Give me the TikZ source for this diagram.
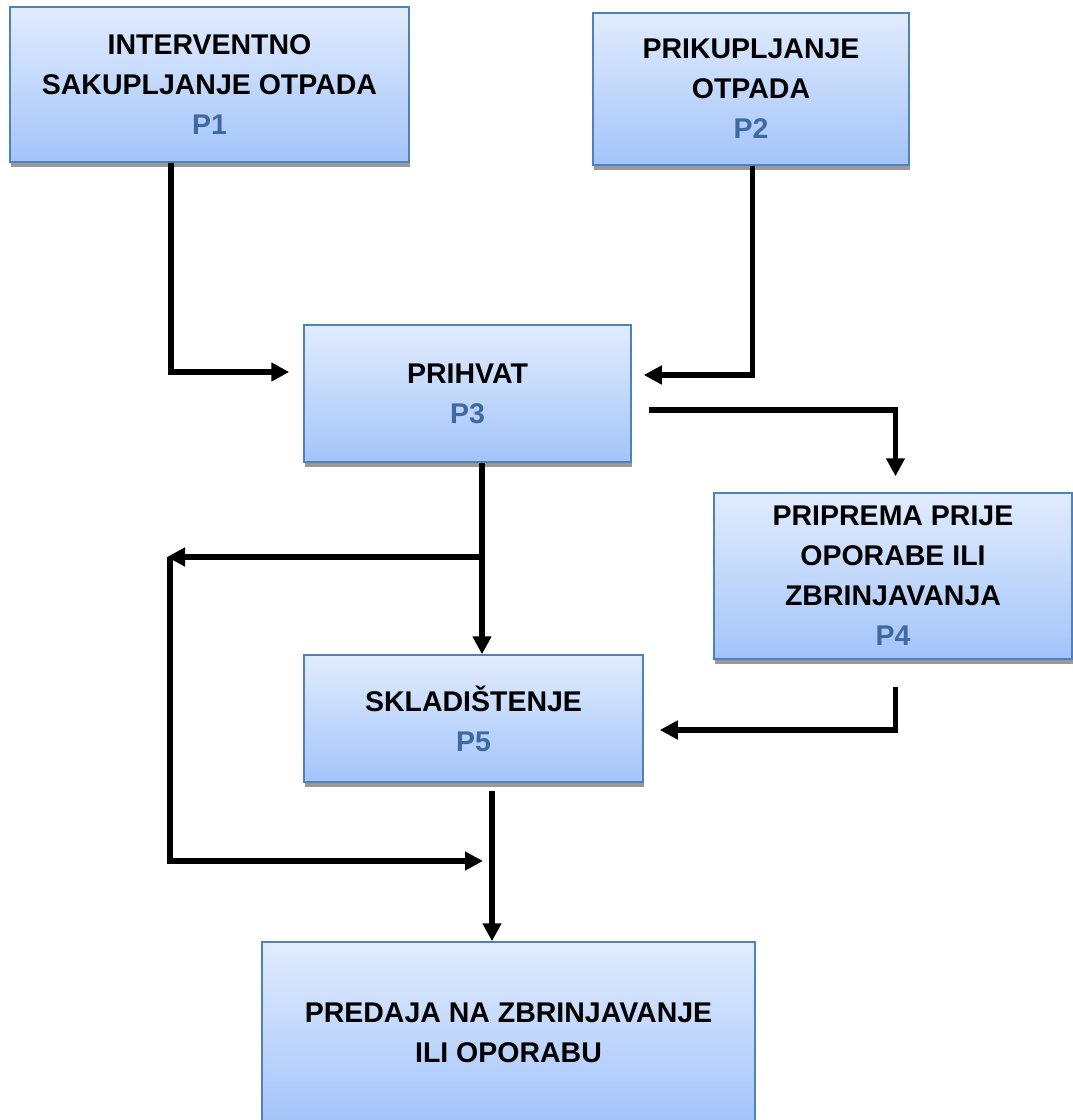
\documentclass[tikz,border=0pt]{standalone}
\usepackage{fontspec}
\setmainfont{Liberation Sans}
\usepackage{tikz}
\usetikzlibrary{positioning, calc, shadows, arrows.meta}

\definecolor{boxtop}{RGB}{225,236,253}
\definecolor{boxbot}{RGB}{163,196,250}
\definecolor{boxline}{RGB}{79,129,189}
\definecolor{pblue}{RGB}{62,106,163}

\begin{document}
\begin{tikzpicture}[x=1pt, y=-1pt]
\tikzstyle{proc}=[draw=boxline, line width=1.5pt, top color=boxtop, bottom color=boxbot,
drop shadow={shadow xshift=1pt, shadow yshift=-5pt, fill=black!40, opacity=1},
align=center, font=\fontsize{28.5}{40}\selectfont\bfseries, inner sep=0pt]
\tikzstyle{flow}=[line width=5.5pt, -{Triangle[length=18pt, width=18pt]}]

\useasboundingbox (0,0) rectangle (1073,1120);

% processes
\node (p1) at (209.5,84.5) [proc, minimum width=399pt, minimum height=155pt]
  {INTERVENTNO\\SAKUPLJANJE OTPADA\\\textcolor{pblue}{P1}};
\node (p2) at (751,89) [proc, minimum width=316pt, minimum height=152pt]
  {PRIKUPLJANJE\\OTPADA\\\textcolor{pblue}{P2}};
\node (p3) at (467.5,393.5) [proc, minimum width=327pt, minimum height=137pt]
  {PRIHVAT\\\textcolor{pblue}{P3}};
\node (p4) at (893,576) [proc, minimum width=358pt, minimum height=166pt]
  {PRIPREMA PRIJE\\OPORABE ILI\\ZBRINJAVANJA\\\textcolor{pblue}{P4}};
\node (p5) at (473.5,718.5) [proc, minimum width=339pt, minimum height=127pt]
  {SKLADIŠTENJE\\\textcolor{pblue}{P5}};
\node (p6) at (508.5,1033) [proc, minimum width=493pt, minimum height=182pt]
  {PREDAJA NA ZBRINJAVANJE\\ILI OPORABU};

% loop points
\coordinate (loop) at (170,557);
\coordinate (split) at ([xshift=14.5pt]p3.south |- loop);
\coordinate (merge) at (483,861);

% connections
\draw[flow, shorten >=14pt] ([xshift=-38.5pt]p1.south) |- ([yshift=21.5pt]p3.west);
\draw[flow, shorten >=12pt] ([xshift=1.5pt]p2.south) |- ([yshift=18.5pt]p3.east);
\draw[flow, shorten <=17pt, shorten >=16pt] ([yshift=-16.5pt]p3.east) -| ([xshift=2.5pt]p4.north);
\draw[flow] ([xshift=14.5pt]p3.south) -- ([xshift=14.5pt]p3.south |- p5.north);
\draw[flow] (split) -- ([xshift=-3pt]loop);
\draw[flow] (loop) |- (merge);
\draw[flow, shorten <=27pt, shorten >=16pt] ([xshift=2.5pt]p4.south) |- ([yshift=-11.5pt]p5.east);
\draw[flow, shorten <=8pt] ([xshift=18.5pt]p5.south) -- ([xshift=18.5pt]p5.south |- p6.north);

\end{tikzpicture}
\end{document}
